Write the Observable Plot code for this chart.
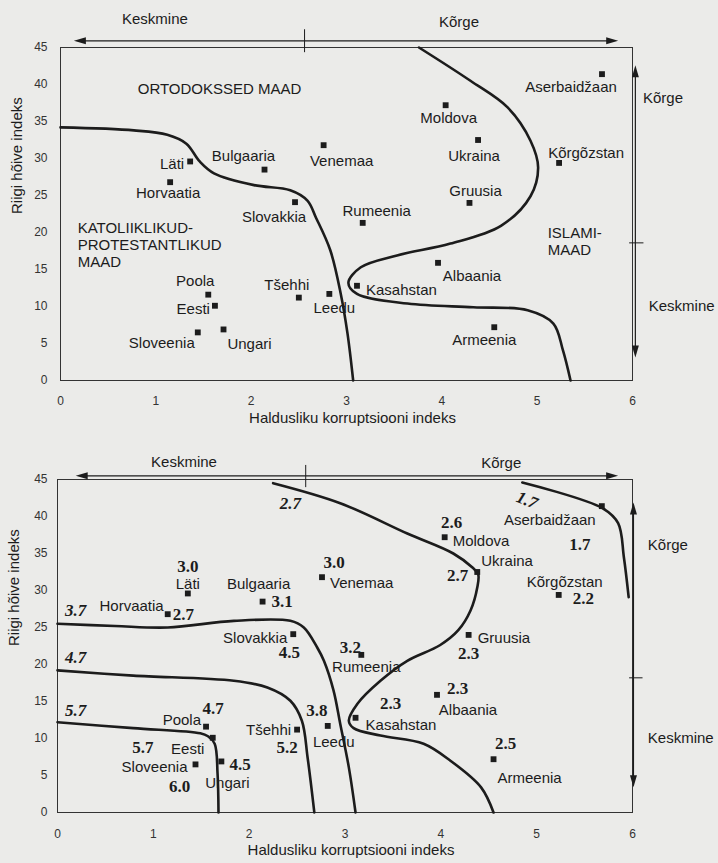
<!DOCTYPE html>
<html><head><meta charset="utf-8">
<script src="https://cdn.jsdelivr.net/npm/d3@7"></script>
<script src="https://cdn.jsdelivr.net/npm/@observablehq/plot@0.6"></script>
<style>
html,body{margin:0;padding:0;background:#ebebe9;}
#chart{width:718px;height:863px;overflow:hidden;}
#chart svg{display:block;}
</style></head><body><div id="chart"></div>
<script>
// ---------- data ----------
const countries = ["Läti","Bulgaaria","Venemaa","Horvaatia","Slovakkia","Rumeenia","Moldova","Ukraina","Kõrgõzstan","Aserbaidžaan","Gruusia","Albaania","Kasahstan","Armeenia","Leedu","Tšehhi","Poola","Eesti","Sloveenia","Ungari"];
const corruption = [1.36,2.14,2.76,1.15,2.46,3.17,4.04,4.38,5.23,5.68,4.29,3.96,3.11,4.55,2.82,2.50,1.55,1.62,1.44,1.71];
const employment = [29.6,28.5,31.8,26.8,24.1,21.3,37.2,32.5,29.4,41.4,24.0,15.9,12.8,7.2,11.7,11.2,11.6,10.1,6.5,6.9];
const bottomValues = ["3.0","3.1","3.0","2.7","4.5","3.2","2.6","2.7","2.2","1.7","2.3","2.3","2.3","2.5","3.8","5.2","4.7","5.7","6.0","4.5"];
const xTicks = [0,1,2,3,4,5,6];
const yTicks = [0,5,10,15,20,25,30,35,40,45];
const xTitle = "Haldusliku korruptsiooni indeks";
const yTitle = "Riigi hõive indeks";

// boundary curves, top panel
const topCurveWest = [[0,34.2],[0.77,33.8],[1.12,33.2],[1.32,32.0],[1.46,29.6],[1.61,28.0],[2.03,26.4],[2.41,25.7],[2.59,24.3],[2.68,22.0],[2.83,17.6],[2.94,11.7],[3.01,6.4],[3.07,0]];
const topCurveEast = [[3.76,45],[4.30,40.5],[4.69,36.9],[4.93,32.4],[5.01,28.8],[4.93,24.9],[4.62,20.9],[4.09,18.5],[3.53,16.9],[3.15,15.3],[3.02,13.2],[3.11,11.7],[3.64,10.4],[4.33,9.9],[4.90,9.5],[5.17,7.7],[5.27,4.1],[5.35,0]];
// contour curves, bottom panel
const curve27 = [[2.25,44.5],[2.95,41.8],[3.65,37.7],[4.13,35.0],[4.33,33.1],[4.39,32.2],[4.38,30.4],[4.31,27.3],[4.18,24.6],[3.99,22.6],[3.65,20.5],[3.37,17.8],[3.13,14.7],[3.04,12.4],[3.09,11.4],[3.37,10.4],[3.82,9.3],[4.10,7.0],[4.42,3.4],[4.55,0]];
const curve37 = [[0,25.5],[0.6,25.2],[1.15,25.0],[1.84,25.9],[2.43,25.9],[2.57,25.0],[2.71,22.3],[2.78,20.5],[2.88,16.5],[2.95,12.0],[3.04,6.1],[3.11,0]];
const curve47 = [[0,19.2],[0.79,18.5],[1.84,17.8],[2.19,16.9],[2.43,15.1],[2.55,12.4],[2.61,7.4],[2.68,0]];
const curve57 = [[0,12.2],[0.79,11.4],[1.49,10.7],[1.57,10.3],[1.64,9.3],[1.67,5.3],[1.68,0]];
const curve17 = [[4.85,44.6],[5.69,41.1],[5.85,39.1],[5.91,34.5],[5.96,29.1]];
const curveLabels = [{t:"2.7",x:2.43,y:41.8},{t:"3.7",x:0.19,y:27.3},{t:"4.7",x:0.19,y:20.9},{t:"5.7",x:0.19,y:13.8}];
const curveLabelTilted = [{t:"1.7",x:4.9,y:42.2}];

// region names, top panel
const regions = [
  {t:"ORTODOKSSED MAAD", x:0.81, y:39.5},
  {t:"KATOLIIKLIKUD-\nPROTESTANTLIKUD\nMAAD", x:0.18, y:18.4},
  {t:"ISLAMI-\nMAAD", x:5.11, y:18.9}
];
// scale annotations
const topScaleText = [{t:"Keskmine",x:0.99,y:48.8,a:"middle"},{t:"Kõrge",x:4.18,y:48.4,a:"middle"},{t:"Kõrge",x:6.11,y:38.2,a:"start"},{t:"Keskmine",x:6.17,y:10.1,a:"start"}];
const bottomScaleText = [{t:"Keskmine",x:1.32,y:47.3,a:"middle"},{t:"Kõrge",x:4.63,y:47.2,a:"middle"},{t:"Kõrge",x:6.16,y:36.1,a:"start"},{t:"Keskmine",x:6.16,y:10.1,a:"start"}];
const topArrows = {hy:45.9, hx1:0.14, hx2:5.85, hTick:2.56, hTickY:[44.3,47.4], vx:6.03, vy1:3.1, vy2:42.6, vTick:18.6, vTickX:[5.97,6.12]};
const bottomArrows = {hy:45.5, hx1:0.19, hx2:5.85, hTick:2.59, hTickY:[43.9,46.9], vx:6.01, vy1:3.4, vy2:41.9, vTick:18.2, vTickX:[5.97,6.11]};

// label placement [anchor, dx, dy]
const topPlacement = {"Läti":["end",-6,3],"Bulgaaria":["middle",-21,-13],"Venemaa":["middle",18,16],"Horvaatia":["middle",-2,11],"Slovakkia":["middle",-21,15],"Rumeenia":["middle",14,-12],"Moldova":["middle",3,13],"Ukraina":["middle",-4,16],"Kõrgõzstan":["middle",27,-10],"Aserbaidžaan":["middle",-31,13],"Gruusia":["middle",6,-12],"Albaania":["middle",34,13],"Kasahstan":["start",9,4],"Armeenia":["middle",-10,13],"Leedu":["middle",5,14],"Tšehhi":["middle",-12,-12],"Poola":["middle",-13,-13],"Eesti":["end",-5,3],"Sloveenia":["middle",-36,11],"Ungari":["middle",26,15]};
const bottomPlacement = {"Läti":["middle",0,-9],"Bulgaaria":["middle",-4,-17],"Venemaa":["start",8,6],"Horvaatia":["end",-4,-8],"Slovakkia":["end",-6,4],"Rumeenia":["middle",5,12],"Moldova":["start",8,4],"Ukraina":["start",4,-11],"Kõrgõzstan":["middle",6,-13],"Aserbaidžaan":["middle",-52,14],"Gruusia":["start",9,3],"Albaania":["middle",31,15],"Kasahstan":["start",10,7],"Armeenia":["middle",36,19],"Leedu":["middle",6,16],"Tšehhi":["end",-6,1],"Poola":["end",-5,-6],"Eesti":["middle",-25,11],"Sloveenia":["end",-8,3],"Ungari":["middle",6,22]};
const valuePlacement = {"Läti":["middle",0,-27],"Bulgaaria":["start",9,0],"Venemaa":["middle",12,-15],"Horvaatia":["start",5,0],"Slovakkia":["middle",-4,18],"Rumeenia":["middle",-11,-7],"Moldova":["middle",7,-15],"Ukraina":["end",-9,4],"Kõrgõzstan":["start",14,4],"Aserbaidžaan":["middle",-22,38],"Gruusia":["middle",0,19],"Albaania":["start",10,-6],"Kasahstan":["middle",35,-14],"Armeenia":["middle",12,-16],"Leedu":["middle",-11,-15],"Tšehhi":["middle",-10,18],"Poola":["middle",7,-18],"Eesti":["middle",-70,10],"Sloveenia":["middle",-16,22],"Ungari":["start",8,3]};

// ---------- build ----------
const rows = countries.map((c,i)=>({name:c, x:corruption[i], y:employment[i], v:bottomValues[i]}));
const INK = "#1c1c1c";
const SANS = "'Liberation Sans', Arial, sans-serif";
const SERIF = "'Liberation Serif', 'Times New Roman', serif";

const head = (pts) => ({draw(ctx){ ctx.moveTo(pts[0][0],pts[0][1]); for (const p of pts.slice(1)) ctx.lineTo(p[0],p[1]); ctx.closePath(); }});
const headLeft = head([[0,0],[12,-3.5],[12,3.5]]);
const headRight = head([[0,0],[-12,-3.5],[-12,3.5]]);
const headUp = head([[0,0],[-3.5,12],[3.5,12]]);
const headDown = head([[0,0],[-3.5,-12],[3.5,-12]]);

function decor(A, texts){
  return [
    Plot.ruleY([A.hy], {x1:A.hx1+0.05, x2:A.hx2-0.05, stroke:INK, strokeWidth:1.2}),
    Plot.ruleX([A.hTick], {y1:A.hTickY[0], y2:A.hTickY[1], stroke:INK, strokeWidth:1}),
    Plot.dot([[A.hx1,A.hy]], {x:d=>d[0], y:d=>d[1], symbol:headLeft, fill:INK, stroke:"none"}),
    Plot.dot([[A.hx2,A.hy]], {x:d=>d[0], y:d=>d[1], symbol:headRight, fill:INK, stroke:"none"}),
    Plot.ruleX([A.vx], {y1:A.vy1+0.8, y2:A.vy2-0.8, stroke:INK, strokeWidth:1.2}),
    Plot.ruleY([A.vTick], {x1:A.vTickX[0], x2:A.vTickX[1], stroke:INK, strokeWidth:1}),
    Plot.dot([[A.vx,A.vy2]], {x:d=>d[0], y:d=>d[1], symbol:headUp, fill:INK, stroke:"none"}),
    Plot.dot([[A.vx,A.vy1]], {x:d=>d[0], y:d=>d[1], symbol:headDown, fill:INK, stroke:"none"}),
    ...["middle","start"].map(a => Plot.text(texts.filter(d=>d.a===a), {x:"x", y:"y", text:"t", textAnchor:a, fontSize:15, fill:INK, fontFamily:SANS}))
  ];
}

function axes(padX, padY){
  return [
    Plot.axisX({ticks:xTicks, tickSize:0, tickPadding:padX, fontSize:12, label:null, color:"#333", tickFormat:d=>String(d)}),
    Plot.axisY({ticks:yTicks, tickSize:0, tickPadding:padY, fontSize:12, label:null, color:"#333", tickFormat:d=>String(d)}),
    Plot.text([xTitle], {frameAnchor:"bottom", dy:42, dx:6, fontSize:15, fill:INK, fontFamily:SANS}),
    Plot.text([yTitle], {frameAnchor:"left", rotate:-90, dx:-43, fontSize:15, fill:INK, fontFamily:SANS}),
    Plot.frame({stroke:"#333", strokeWidth:1})
  ];
}

const line = (pts, w=2.6) => Plot.line(pts, {x:d=>d[0], y:d=>d[1], curve:"catmull-rom", stroke:INK, strokeWidth:w, strokeLinecap:"round"});

function countryLabels(place){
  return rows.map(r => { const p = place[r.name]; return Plot.text([r], {x:"x", y:"y", text:"name", textAnchor:p[0], dx:p[1], dy:p[2], fontSize:15, fill:INK, fontFamily:SANS}); });
}

const common = {width:718, x:{domain:[0,6]}, y:{domain:[0,45]}, style:{background:"transparent", fontFamily:SANS, overflow:"visible"}};

const topChart = Plot.plot({...common, height:432, marginTop:47, marginBottom:52, marginLeft:60, marginRight:86,
  marks:[
    ...axes(16,13),
    ...decor(topArrows, topScaleText),
    line(topCurveWest), line(topCurveEast),
    Plot.text(regions, {x:"x", y:"y", text:"t", textAnchor:"start", fontSize:15, lineHeight:1.13, fill:INK, fontFamily:SANS}),
    Plot.dot(rows, {x:"x", y:"y", symbol:"square", r:3.3, fill:INK, stroke:"none"}),
    ...countryLabels(topPlacement)
  ]});

const bottomChart = Plot.plot({...common, height:431, marginTop:47, marginBottom:51, marginLeft:57, marginRight:86,
  marks:[
    ...axes(17,10),
    ...decor(bottomArrows, bottomScaleText),
    line(curve27), line(curve37), line(curve47), line(curve57), line(curve17),
    Plot.text(curveLabels, {x:"x", y:"y", text:"t", fontSize:17, fontWeight:"bold", fontStyle:"italic", fill:INK, fontFamily:SERIF}),
    Plot.text(curveLabelTilted, {x:"x", y:"y", text:"t", rotate:22, fontSize:17, fontWeight:"bold", fontStyle:"italic", fill:INK, fontFamily:SERIF}),
    Plot.dot(rows, {x:"x", y:"y", symbol:"square", r:3.3, fill:INK, stroke:"none"}),
    ...countryLabels(bottomPlacement),
    ...rows.map(r => { const p = valuePlacement[r.name]; return Plot.text([r], {x:"x", y:"y", text:"v", textAnchor:p[0], dx:p[1], dy:p[2], fontSize:17, fontWeight:"bold", fill:INK, fontFamily:SERIF}); })
  ]});

document.getElementById("chart").append(topChart, bottomChart);
</script></body></html>
